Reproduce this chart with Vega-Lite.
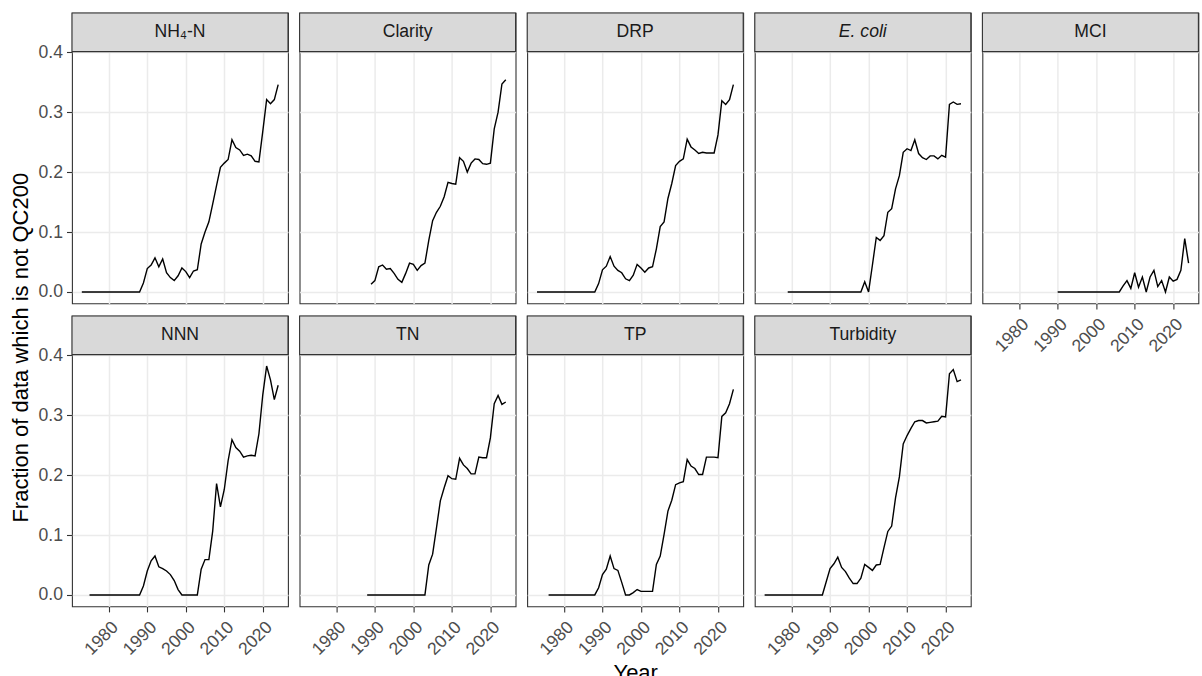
{
  "$schema": "https://vega.github.io/schema/vega-lite/v6.json",
  "padding": {"left": 10, "top": 11, "right": 2, "bottom": 0},
  "background": "white",
  "bounds": "flush",
  "title": {"text": "Fraction of data which is not QC200", "orient": "left", "anchor": "middle", "fontSize": 22, "fontWeight": "normal", "font": "Liberation Sans", "color": "black", "offset": 4},
  "datasets": {
    "wide": [
      {"Year":1973,"NH4N":0,"DRP":0,"Turbidity":0},
      {"Year":1974,"NH4N":0,"DRP":0,"Turbidity":0},
      {"Year":1975,"NH4N":0,"DRP":0,"NNN":0,"Turbidity":0},
      {"Year":1976,"NH4N":0,"DRP":0,"NNN":0,"TP":0,"Turbidity":0},
      {"Year":1977,"NH4N":0,"DRP":0,"NNN":0,"TP":0,"Turbidity":0},
      {"Year":1978,"NH4N":0,"DRP":0,"NNN":0,"TP":0,"Turbidity":0},
      {"Year":1979,"NH4N":0,"DRP":0,"Ecoli":0,"NNN":0,"TP":0,"Turbidity":0},
      {"Year":1980,"NH4N":0,"DRP":0,"Ecoli":0,"NNN":0,"TP":0,"Turbidity":0},
      {"Year":1981,"NH4N":0,"DRP":0,"Ecoli":0,"NNN":0,"TP":0,"Turbidity":0},
      {"Year":1982,"NH4N":0,"DRP":0,"Ecoli":0,"NNN":0,"TP":0,"Turbidity":0},
      {"Year":1983,"NH4N":0,"DRP":0,"Ecoli":0,"NNN":0,"TP":0,"Turbidity":0},
      {"Year":1984,"NH4N":0,"DRP":0,"Ecoli":0,"NNN":0,"TP":0,"Turbidity":0},
      {"Year":1985,"NH4N":0,"DRP":0,"Ecoli":0,"NNN":0,"TP":0,"Turbidity":0},
      {"Year":1986,"NH4N":0,"DRP":0,"Ecoli":0,"NNN":0,"TP":0,"Turbidity":0},
      {"Year":1987,"NH4N":0,"DRP":0,"Ecoli":0,"NNN":0,"TP":0,"Turbidity":0},
      {"Year":1988,"NH4N":0,"DRP":0,"Ecoli":0,"NNN":0,"TN":0,"TP":0,"Turbidity":0},
      {"Year":1989,"NH4N":0.015,"Clarity":0.013,"DRP":0.014,"Ecoli":0,"NNN":0.015,"TN":0,"TP":0.012,"Turbidity":0.022},
      {"Year":1990,"NH4N":0.039,"Clarity":0.019,"DRP":0.037,"Ecoli":0,"MCI":0,"NNN":0.040,"TN":0,"TP":0.034,"Turbidity":0.044},
      {"Year":1991,"NH4N":0.045,"Clarity":0.042,"DRP":0.043,"Ecoli":0,"MCI":0,"NNN":0.057,"TN":0,"TP":0.043,"Turbidity":0.052},
      {"Year":1992,"NH4N":0.057,"Clarity":0.045,"DRP":0.059,"Ecoli":0,"MCI":0,"NNN":0.065,"TN":0,"TP":0.065,"Turbidity":0.063},
      {"Year":1993,"NH4N":0.042,"Clarity":0.038,"DRP":0.043,"Ecoli":0,"MCI":0,"NNN":0.047,"TN":0,"TP":0.044,"Turbidity":0.046},
      {"Year":1994,"NH4N":0.055,"Clarity":0.039,"DRP":0.036,"Ecoli":0,"MCI":0,"NNN":0.044,"TN":0,"TP":0.041,"Turbidity":0.039},
      {"Year":1995,"NH4N":0.032,"Clarity":0.031,"DRP":0.032,"Ecoli":0,"MCI":0,"NNN":0.040,"TN":0,"TP":0.021,"Turbidity":0.028},
      {"Year":1996,"NH4N":0.024,"Clarity":0.021,"DRP":0.022,"Ecoli":0,"MCI":0,"NNN":0.034,"TN":0,"TP":0,"Turbidity":0.019},
      {"Year":1997,"NH4N":0.019,"Clarity":0.016,"DRP":0.019,"Ecoli":0,"MCI":0,"NNN":0.024,"TN":0,"TP":0,"Turbidity":0.019},
      {"Year":1998,"NH4N":0.027,"Clarity":0.031,"DRP":0.028,"Ecoli":0,"MCI":0,"NNN":0.009,"TN":0,"TP":0.004,"Turbidity":0.028},
      {"Year":1999,"NH4N":0.040,"Clarity":0.048,"DRP":0.046,"Ecoli":0.017,"MCI":0,"NNN":0,"TN":0,"TP":0.009,"Turbidity":0.051},
      {"Year":2000,"NH4N":0.034,"Clarity":0.046,"DRP":0.040,"Ecoli":0,"MCI":0,"NNN":0,"TN":0,"TP":0.006,"Turbidity":0.046},
      {"Year":2001,"NH4N":0.024,"Clarity":0.036,"DRP":0.033,"Ecoli":0.045,"MCI":0,"NNN":0,"TN":0,"TP":0.006,"Turbidity":0.041},
      {"Year":2002,"NH4N":0.035,"Clarity":0.044,"DRP":0.040,"Ecoli":0.091,"MCI":0,"NNN":0,"TN":0,"TP":0.006,"Turbidity":0.050},
      {"Year":2003,"NH4N":0.037,"Clarity":0.048,"DRP":0.042,"Ecoli":0.086,"MCI":0,"NNN":0,"TN":0,"TP":0.006,"Turbidity":0.051},
      {"Year":2004,"NH4N":0.080,"Clarity":0.086,"DRP":0.072,"Ecoli":0.094,"MCI":0,"NNN":0.043,"TN":0.050,"TP":0.051,"Turbidity":0.079},
      {"Year":2005,"NH4N":0.100,"Clarity":0.119,"DRP":0.109,"Ecoli":0.133,"MCI":0,"NNN":0.059,"TN":0.068,"TP":0.065,"Turbidity":0.106},
      {"Year":2006,"NH4N":0.117,"Clarity":0.133,"DRP":0.117,"Ecoli":0.139,"MCI":0,"NNN":0.059,"TN":0.112,"TP":0.101,"Turbidity":0.115},
      {"Year":2007,"NH4N":0.147,"Clarity":0.143,"DRP":0.156,"Ecoli":0.172,"MCI":0.010,"NNN":0.107,"TN":0.157,"TP":0.140,"Turbidity":0.162},
      {"Year":2008,"NH4N":0.178,"Clarity":0.159,"DRP":0.181,"Ecoli":0.194,"MCI":0.019,"NNN":0.186,"TN":0.179,"TP":0.158,"Turbidity":0.197},
      {"Year":2009,"NH4N":0.208,"Clarity":0.183,"DRP":0.211,"Ecoli":0.233,"MCI":0.006,"NNN":0.147,"TN":0.199,"TP":0.184,"Turbidity":0.252},
      {"Year":2010,"NH4N":0.215,"Clarity":0.181,"DRP":0.218,"Ecoli":0.239,"MCI":0.032,"NNN":0.176,"TN":0.194,"TP":0.187,"Turbidity":0.266},
      {"Year":2011,"NH4N":0.221,"Clarity":0.180,"DRP":0.222,"Ecoli":0.236,"MCI":0.008,"NNN":0.224,"TN":0.193,"TP":0.189,"Turbidity":0.278},
      {"Year":2012,"NH4N":0.254,"Clarity":0.224,"DRP":0.255,"Ecoli":0.254,"MCI":0.025,"NNN":0.259,"TN":0.228,"TP":0.226,"Turbidity":0.289},
      {"Year":2013,"NH4N":0.241,"Clarity":0.218,"DRP":0.242,"Ecoli":0.231,"MCI":0,"NNN":0.246,"TN":0.217,"TP":0.215,"Turbidity":0.291},
      {"Year":2014,"NH4N":0.237,"Clarity":0.200,"DRP":0.237,"Ecoli":0.224,"MCI":0.025,"NNN":0.240,"TN":0.211,"TP":0.211,"Turbidity":0.291},
      {"Year":2015,"NH4N":0.228,"Clarity":0.215,"DRP":0.231,"Ecoli":0.221,"MCI":0.036,"NNN":0.230,"TN":0.202,"TP":0.201,"Turbidity":0.287},
      {"Year":2016,"NH4N":0.230,"Clarity":0.222,"DRP":0.233,"Ecoli":0.227,"MCI":0.009,"NNN":0.232,"TN":0.202,"TP":0.201,"Turbidity":0.288},
      {"Year":2017,"NH4N":0.227,"Clarity":0.221,"DRP":0.232,"Ecoli":0.227,"MCI":0.019,"NNN":0.233,"TN":0.230,"TP":0.230,"Turbidity":0.289},
      {"Year":2018,"NH4N":0.218,"Clarity":0.214,"DRP":0.232,"Ecoli":0.222,"MCI":0,"NNN":0.232,"TN":0.229,"TP":0.230,"Turbidity":0.290},
      {"Year":2019,"NH4N":0.217,"Clarity":0.213,"DRP":0.232,"Ecoli":0.228,"MCI":0.025,"NNN":0.269,"TN":0.229,"TP":0.230,"Turbidity":0.298},
      {"Year":2020,"NH4N":0.268,"Clarity":0.215,"DRP":0.262,"Ecoli":0.225,"MCI":0.018,"NNN":0.334,"TN":0.262,"TP":0.229,"Turbidity":0.297},
      {"Year":2021,"NH4N":0.321,"Clarity":0.272,"DRP":0.319,"Ecoli":0.313,"MCI":0.021,"NNN":0.382,"TN":0.319,"TP":0.298,"Turbidity":0.369},
      {"Year":2022,"NH4N":0.314,"Clarity":0.300,"DRP":0.313,"Ecoli":0.317,"MCI":0.036,"NNN":0.359,"TN":0.333,"TP":0.304,"Turbidity":0.376},
      {"Year":2023,"NH4N":0.321,"Clarity":0.347,"DRP":0.321,"Ecoli":0.313,"MCI":0.089,"NNN":0.326,"TN":0.318,"TP":0.319,"Turbidity":0.356},
      {"Year":2024,"NH4N":0.346,"Clarity":0.354,"DRP":0.346,"Ecoli":0.314,"MCI":0.048,"NNN":0.350,"TN":0.322,"TP":0.343,"Turbidity":0.359}
    ],
    "labels": [
      {"key":"NH4N","label":"NH₄-N"},
      {"key":"Clarity","label":"Clarity"},
      {"key":"DRP","label":"DRP"},
      {"key":"Ecoli","label":"E. coli"},
      {"key":"MCI","label":"MCI"},
      {"key":"NNN","label":"NNN"},
      {"key":"TN","label":"TN"},
      {"key":"TP","label":"TP"},
      {"key":"Turbidity","label":"Turbidity"}
    ]
  },
  "data": {"name": "wide"},
  "transform": [
    {"fold": ["NH4N","Clarity","DRP","Ecoli","MCI","NNN","TN","TP","Turbidity"], "as": ["key","value"]},
    {"filter": "isValid(datum.value)"},
    {"lookup": "key", "from": {"data": {"name": "labels"}, "key": "key", "fields": ["label"]}}
  ],
  "columns": 5,
  "spacing": {"row": 12, "column": 11.6},
  "concat": [
    {
      "width": 216, "height": 290.4,
      "transform": [{"filter": {"field": "label", "equal": "NH₄-N"}}],
      "resolve": {"axis": {"x": "independent"}},
      "layer": [
        {"mark": "line", "encoding": {
          "x": {"field": "Year", "type": "quantitative", "scale": {"domain": [1970.45, 2026.55], "nice": false, "zero": false},
                "axis": {"title": null, "values": [1980,1990,2000,2010,2020], "labels": false, "ticks": false, "gridWidth": 1.5}},
          "y": {"field": "value", "type": "quantitative", "scale": {"domain": [-0.0191, 0.4655], "nice": false, "zero": false},
                "axis": {"title": null, "values": [0,0.05,0.1,0.15,0.2,0.25,0.3,0.35,0.4], "format": ".1f", "labelExpr": "round(datum.value*20) % 2 == 1 ? '' : datum.label", "labelOverlap": false, "labelPadding": 4, "tickOpacity": {"condition": {"test": "round(datum.value*20) % 2 == 1", "value": 0}, "value": 1}, "gridWidth": {"condition": {"test": "round(datum.value*20) % 2 == 1", "value": 0.8}, "value": 1.5}}}
        }},
        {"transform": [{"aggregate": [{"op": "count", "as": "n"}], "groupby": ["label"]}], "mark": "rect",
         "encoding": {"x": {"datum": 1970.45, "type": "quantitative", "axis": {"title": null, "orient": "top", "values": [1975,1985,1995,2005,2015,2025], "labels": false, "ticks": false, "gridWidth": 0.8}}, "x2": {"datum": 2026.55}, "y": {"datum": 0.401, "type": "quantitative"}, "y2": {"datum": 0.4655}}},
        {"transform": [{"aggregate": [{"op": "count", "as": "n"}], "groupby": ["label"]}], "mark": "text",
         "encoding": {"x": {"datum": 1998.5, "type": "quantitative", "axis": null}, "y": {"datum": 0.4333, "type": "quantitative"}, "text": {"field": "label"}}}
      ]
    },
    {
      "width": 216, "height": 290.4,
      "transform": [{"filter": {"field": "label", "equal": "Clarity"}}],
      "resolve": {"axis": {"x": "independent"}},
      "layer": [
        {"mark": "line", "encoding": {
          "x": {"field": "Year", "type": "quantitative", "scale": {"domain": [1970.45, 2026.55], "nice": false, "zero": false},
                "axis": {"title": null, "values": [1980,1990,2000,2010,2020], "labels": false, "ticks": false, "gridWidth": 1.5}},
          "y": {"field": "value", "type": "quantitative", "scale": {"domain": [-0.0191, 0.4655], "nice": false, "zero": false},
                "axis": {"title": null, "values": [0,0.05,0.1,0.15,0.2,0.25,0.3,0.35,0.4], "labels": false, "ticks": false, "gridWidth": {"condition": {"test": "round(datum.value*20) % 2 == 1", "value": 0.8}, "value": 1.5}}}
        }},
        {"transform": [{"aggregate": [{"op": "count", "as": "n"}], "groupby": ["label"]}], "mark": "rect",
         "encoding": {"x": {"datum": 1970.45, "type": "quantitative", "axis": {"title": null, "orient": "top", "values": [1975,1985,1995,2005,2015,2025], "labels": false, "ticks": false, "gridWidth": 0.8}}, "x2": {"datum": 2026.55}, "y": {"datum": 0.401, "type": "quantitative"}, "y2": {"datum": 0.4655}}},
        {"transform": [{"aggregate": [{"op": "count", "as": "n"}], "groupby": ["label"]}], "mark": "text",
         "encoding": {"x": {"datum": 1998.5, "type": "quantitative", "axis": null}, "y": {"datum": 0.4333, "type": "quantitative"}, "text": {"field": "label"}}}
      ]
    },
    {
      "width": 216, "height": 290.4,
      "transform": [{"filter": {"field": "label", "equal": "DRP"}}],
      "resolve": {"axis": {"x": "independent"}},
      "layer": [
        {"mark": "line", "encoding": {
          "x": {"field": "Year", "type": "quantitative", "scale": {"domain": [1970.45, 2026.55], "nice": false, "zero": false},
                "axis": {"title": null, "values": [1980,1990,2000,2010,2020], "labels": false, "ticks": false, "gridWidth": 1.5}},
          "y": {"field": "value", "type": "quantitative", "scale": {"domain": [-0.0191, 0.4655], "nice": false, "zero": false},
                "axis": {"title": null, "values": [0,0.05,0.1,0.15,0.2,0.25,0.3,0.35,0.4], "labels": false, "ticks": false, "gridWidth": {"condition": {"test": "round(datum.value*20) % 2 == 1", "value": 0.8}, "value": 1.5}}}
        }},
        {"transform": [{"aggregate": [{"op": "count", "as": "n"}], "groupby": ["label"]}], "mark": "rect",
         "encoding": {"x": {"datum": 1970.45, "type": "quantitative", "axis": {"title": null, "orient": "top", "values": [1975,1985,1995,2005,2015,2025], "labels": false, "ticks": false, "gridWidth": 0.8}}, "x2": {"datum": 2026.55}, "y": {"datum": 0.401, "type": "quantitative"}, "y2": {"datum": 0.4655}}},
        {"transform": [{"aggregate": [{"op": "count", "as": "n"}], "groupby": ["label"]}], "mark": "text",
         "encoding": {"x": {"datum": 1998.5, "type": "quantitative", "axis": null}, "y": {"datum": 0.4333, "type": "quantitative"}, "text": {"field": "label"}}}
      ]
    },
    {
      "width": 216, "height": 290.4,
      "transform": [{"filter": {"field": "label", "equal": "E. coli"}}],
      "resolve": {"axis": {"x": "independent"}},
      "layer": [
        {"mark": "line", "encoding": {
          "x": {"field": "Year", "type": "quantitative", "scale": {"domain": [1970.45, 2026.55], "nice": false, "zero": false},
                "axis": {"title": null, "values": [1980,1990,2000,2010,2020], "labels": false, "ticks": false, "gridWidth": 1.5}},
          "y": {"field": "value", "type": "quantitative", "scale": {"domain": [-0.0191, 0.4655], "nice": false, "zero": false},
                "axis": {"title": null, "values": [0,0.05,0.1,0.15,0.2,0.25,0.3,0.35,0.4], "labels": false, "ticks": false, "gridWidth": {"condition": {"test": "round(datum.value*20) % 2 == 1", "value": 0.8}, "value": 1.5}}}
        }},
        {"transform": [{"aggregate": [{"op": "count", "as": "n"}], "groupby": ["label"]}], "mark": "rect",
         "encoding": {"x": {"datum": 1970.45, "type": "quantitative", "axis": {"title": null, "orient": "top", "values": [1975,1985,1995,2005,2015,2025], "labels": false, "ticks": false, "gridWidth": 0.8}}, "x2": {"datum": 2026.55}, "y": {"datum": 0.401, "type": "quantitative"}, "y2": {"datum": 0.4655}}},
        {"transform": [{"aggregate": [{"op": "count", "as": "n"}], "groupby": ["label"]}], "mark": {"type": "text", "fontStyle": "italic"},
         "encoding": {"x": {"datum": 1998.5, "type": "quantitative", "axis": null}, "y": {"datum": 0.4333, "type": "quantitative"}, "text": {"field": "label"}}}
      ]
    },
    {
      "width": 216, "height": 290.4,
      "transform": [{"filter": {"field": "label", "equal": "MCI"}}],
      "resolve": {"axis": {"x": "independent"}},
      "layer": [
        {"mark": "line", "encoding": {
          "x": {"field": "Year", "type": "quantitative", "scale": {"domain": [1970.45, 2026.55], "nice": false, "zero": false},
                "axis": {"title": null, "values": [1980,1990,2000,2010,2020], "format": "d", "labelOverlap": false, "labelAngle": -45, "labelAlign": "right", "labelBaseline": "top", "labelPadding": 6, "gridWidth": 1.5}},
          "y": {"field": "value", "type": "quantitative", "scale": {"domain": [-0.0191, 0.4655], "nice": false, "zero": false},
                "axis": {"title": null, "values": [0,0.05,0.1,0.15,0.2,0.25,0.3,0.35,0.4], "labels": false, "ticks": false, "gridWidth": {"condition": {"test": "round(datum.value*20) % 2 == 1", "value": 0.8}, "value": 1.5}}}
        }},
        {"transform": [{"aggregate": [{"op": "count", "as": "n"}], "groupby": ["label"]}], "mark": "rect",
         "encoding": {"x": {"datum": 1970.45, "type": "quantitative", "axis": {"title": null, "orient": "top", "values": [1975,1985,1995,2005,2015,2025], "labels": false, "ticks": false, "gridWidth": 0.8}}, "x2": {"datum": 2026.55}, "y": {"datum": 0.401, "type": "quantitative"}, "y2": {"datum": 0.4655}}},
        {"transform": [{"aggregate": [{"op": "count", "as": "n"}], "groupby": ["label"]}], "mark": "text",
         "encoding": {"x": {"datum": 1998.5, "type": "quantitative", "axis": null}, "y": {"datum": 0.4333, "type": "quantitative"}, "text": {"field": "label"}}}
      ]
    },
    {
      "width": 216, "height": 290.4,
      "transform": [{"filter": {"field": "label", "equal": "NNN"}}],
      "resolve": {"axis": {"x": "independent"}},
      "layer": [
        {"mark": "line", "encoding": {
          "x": {"field": "Year", "type": "quantitative", "scale": {"domain": [1970.45, 2026.55], "nice": false, "zero": false},
                "axis": {"title": null, "values": [1980,1990,2000,2010,2020], "format": "d", "labelOverlap": false, "labelAngle": -45, "labelAlign": "right", "labelBaseline": "top", "labelPadding": 6, "gridWidth": 1.5}},
          "y": {"field": "value", "type": "quantitative", "scale": {"domain": [-0.0191, 0.4655], "nice": false, "zero": false},
                "axis": {"title": null, "values": [0,0.05,0.1,0.15,0.2,0.25,0.3,0.35,0.4], "format": ".1f", "labelExpr": "round(datum.value*20) % 2 == 1 ? '' : datum.label", "labelOverlap": false, "labelPadding": 4, "tickOpacity": {"condition": {"test": "round(datum.value*20) % 2 == 1", "value": 0}, "value": 1}, "gridWidth": {"condition": {"test": "round(datum.value*20) % 2 == 1", "value": 0.8}, "value": 1.5}}}
        }},
        {"transform": [{"aggregate": [{"op": "count", "as": "n"}], "groupby": ["label"]}], "mark": "rect",
         "encoding": {"x": {"datum": 1970.45, "type": "quantitative", "axis": {"title": null, "orient": "top", "values": [1975,1985,1995,2005,2015,2025], "labels": false, "ticks": false, "gridWidth": 0.8}}, "x2": {"datum": 2026.55}, "y": {"datum": 0.401, "type": "quantitative"}, "y2": {"datum": 0.4655}}},
        {"transform": [{"aggregate": [{"op": "count", "as": "n"}], "groupby": ["label"]}], "mark": "text",
         "encoding": {"x": {"datum": 1998.5, "type": "quantitative", "axis": null}, "y": {"datum": 0.4333, "type": "quantitative"}, "text": {"field": "label"}}}
      ]
    },
    {
      "width": 216, "height": 290.4,
      "transform": [{"filter": {"field": "label", "equal": "TN"}}],
      "resolve": {"axis": {"x": "independent"}},
      "layer": [
        {"mark": "line", "encoding": {
          "x": {"field": "Year", "type": "quantitative", "scale": {"domain": [1970.45, 2026.55], "nice": false, "zero": false},
                "axis": {"title": null, "values": [1980,1990,2000,2010,2020], "format": "d", "labelOverlap": false, "labelAngle": -45, "labelAlign": "right", "labelBaseline": "top", "labelPadding": 6, "gridWidth": 1.5}},
          "y": {"field": "value", "type": "quantitative", "scale": {"domain": [-0.0191, 0.4655], "nice": false, "zero": false},
                "axis": {"title": null, "values": [0,0.05,0.1,0.15,0.2,0.25,0.3,0.35,0.4], "labels": false, "ticks": false, "gridWidth": {"condition": {"test": "round(datum.value*20) % 2 == 1", "value": 0.8}, "value": 1.5}}}
        }},
        {"transform": [{"aggregate": [{"op": "count", "as": "n"}], "groupby": ["label"]}], "mark": "rect",
         "encoding": {"x": {"datum": 1970.45, "type": "quantitative", "axis": {"title": null, "orient": "top", "values": [1975,1985,1995,2005,2015,2025], "labels": false, "ticks": false, "gridWidth": 0.8}}, "x2": {"datum": 2026.55}, "y": {"datum": 0.401, "type": "quantitative"}, "y2": {"datum": 0.4655}}},
        {"transform": [{"aggregate": [{"op": "count", "as": "n"}], "groupby": ["label"]}], "mark": "text",
         "encoding": {"x": {"datum": 1998.5, "type": "quantitative", "axis": null}, "y": {"datum": 0.4333, "type": "quantitative"}, "text": {"field": "label"}}}
      ]
    },
    {
      "width": 216, "height": 290.4,
      "transform": [{"filter": {"field": "label", "equal": "TP"}}],
      "resolve": {"axis": {"x": "independent"}},
      "layer": [
        {"mark": "line", "encoding": {
          "x": {"field": "Year", "type": "quantitative", "scale": {"domain": [1970.45, 2026.55], "nice": false, "zero": false},
                "axis": {"title": "Year", "titlePadding": 4, "values": [1980,1990,2000,2010,2020], "format": "d", "labelOverlap": false, "labelAngle": -45, "labelAlign": "right", "labelBaseline": "top", "labelPadding": 6, "gridWidth": 1.5}},
          "y": {"field": "value", "type": "quantitative", "scale": {"domain": [-0.0191, 0.4655], "nice": false, "zero": false},
                "axis": {"title": null, "values": [0,0.05,0.1,0.15,0.2,0.25,0.3,0.35,0.4], "labels": false, "ticks": false, "gridWidth": {"condition": {"test": "round(datum.value*20) % 2 == 1", "value": 0.8}, "value": 1.5}}}
        }},
        {"transform": [{"aggregate": [{"op": "count", "as": "n"}], "groupby": ["label"]}], "mark": "rect",
         "encoding": {"x": {"datum": 1970.45, "type": "quantitative", "axis": {"title": null, "orient": "top", "values": [1975,1985,1995,2005,2015,2025], "labels": false, "ticks": false, "gridWidth": 0.8}}, "x2": {"datum": 2026.55}, "y": {"datum": 0.401, "type": "quantitative"}, "y2": {"datum": 0.4655}}},
        {"transform": [{"aggregate": [{"op": "count", "as": "n"}], "groupby": ["label"]}], "mark": "text",
         "encoding": {"x": {"datum": 1998.5, "type": "quantitative", "axis": null}, "y": {"datum": 0.4333, "type": "quantitative"}, "text": {"field": "label"}}}
      ]
    },
    {
      "width": 216, "height": 290.4,
      "transform": [{"filter": {"field": "label", "equal": "Turbidity"}}],
      "resolve": {"axis": {"x": "independent"}},
      "layer": [
        {"mark": "line", "encoding": {
          "x": {"field": "Year", "type": "quantitative", "scale": {"domain": [1970.45, 2026.55], "nice": false, "zero": false},
                "axis": {"title": null, "values": [1980,1990,2000,2010,2020], "format": "d", "labelOverlap": false, "labelAngle": -45, "labelAlign": "right", "labelBaseline": "top", "labelPadding": 6, "gridWidth": 1.5}},
          "y": {"field": "value", "type": "quantitative", "scale": {"domain": [-0.0191, 0.4655], "nice": false, "zero": false},
                "axis": {"title": null, "values": [0,0.05,0.1,0.15,0.2,0.25,0.3,0.35,0.4], "labels": false, "ticks": false, "gridWidth": {"condition": {"test": "round(datum.value*20) % 2 == 1", "value": 0.8}, "value": 1.5}}}
        }},
        {"transform": [{"aggregate": [{"op": "count", "as": "n"}], "groupby": ["label"]}], "mark": "rect",
         "encoding": {"x": {"datum": 1970.45, "type": "quantitative", "axis": {"title": null, "orient": "top", "values": [1975,1985,1995,2005,2015,2025], "labels": false, "ticks": false, "gridWidth": 0.8}}, "x2": {"datum": 2026.55}, "y": {"datum": 0.401, "type": "quantitative"}, "y2": {"datum": 0.4655}}},
        {"transform": [{"aggregate": [{"op": "count", "as": "n"}], "groupby": ["label"]}], "mark": "text",
         "encoding": {"x": {"datum": 1998.5, "type": "quantitative", "axis": null}, "y": {"datum": 0.4333, "type": "quantitative"}, "text": {"field": "label"}}}
      ]
    }
  ],
  "config": {
    "font": "Liberation Sans",
    "view": {"stroke": "#333333", "strokeWidth": 1.1},
    "line": {"color": "black", "strokeWidth": 1.4},
    "rect": {"fill": "#D9D9D9", "stroke": "#333333", "strokeWidth": 1.1},
    "text": {"fontSize": 17.6, "color": "#1A1A1A", "font": "Liberation Sans", "align": "center", "baseline": "middle"},
    "axis": {
      "domain": false,
      "gridColor": "#EBEBEB",
      "tickColor": "#333333",
      "tickSize": 5.5,
      "tickWidth": 1.1,
      "labelColor": "#4D4D4D",
      "labelFontSize": 17.6,
      "labelFont": "Liberation Sans",
      "titleFont": "Liberation Sans",
      "titleFontSize": 22,
      "titleFontWeight": "normal",
      "titleColor": "black"
    }
  }
}
